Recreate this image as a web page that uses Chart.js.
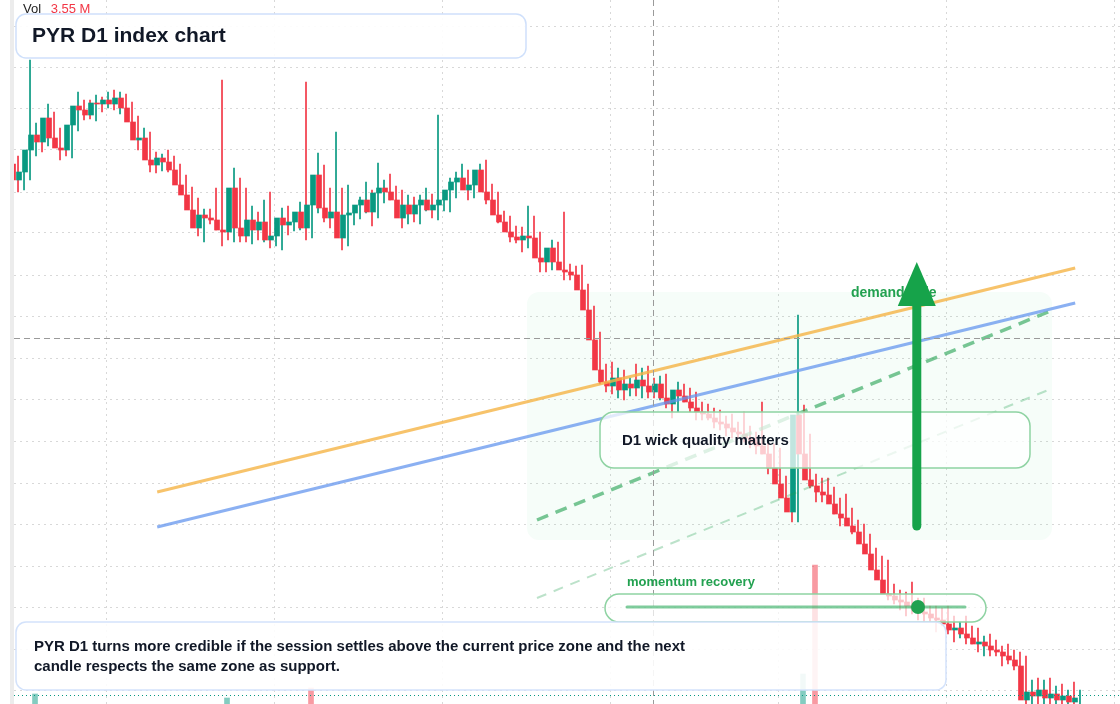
<!DOCTYPE html>
<html><head><meta charset="utf-8">
<script src="https://cdn.jsdelivr.net/npm/chart.js@4.4.1/dist/chart.umd.min.js"></script>
<style>
body{margin:0;background:#fff;font-family:"Liberation Sans",Arial,sans-serif;}
#wrap{position:relative;width:1120px;height:704px;overflow:hidden;}
#strip{position:absolute;left:10px;top:0;width:4px;height:704px;background:#ececec;}
#vol{position:absolute;left:23px;top:1px;font-size:13px;color:#222;}
#vol span{color:#f23645;margin-left:6px;}
</style></head>
<body><div id="wrap"><canvas id="c" width="1120" height="704"></canvas><div id="strip"></div><div id="vol">Vol <span>3.55 M</span></div></div>
<script>
// closes, opens follow previous close
var closes = [
 524,532,554,569,562,586,566,556,554,579,
 598,594,589,601,600,604,600,606,596,582,
 564,566,544,539,546,542,534,519,509,494,
 476,489,486,484,474,472,516,476,468,484,
 474,482,464,468,486,479,482,492,476,499,
 529,496,486,492,466,489,491,499,504,492,
 511,516,512,504,486,499,490,499,504,494,
 499,504,514,522,526,514,519,534,512,504,
 489,482,472,467,464,468,466,446,442,456,
 442,434,432,429,414,394,364,
 334,322,318,326,314,320,316,
 324,318,312,320,306,300,314,308,302,296,
 292,290,286,282,280,276,272,270,266,262,
 258,250,236,220,206,192,289,
 250,224,218,212,209,
 200,190,186,178,172,160,150,
 134,124,110,108,104,
 102,98,96,92,90,86,
 84,80,74,76,70,66,60,62,58,54,
 52,48,44,38,
 4,
 12,8,14,6,10,4,8,2,6
];
var wickUp = [
 8,10,90,12,8,14,6,10,6,10, 14,6,10,8,6,8,10,6,4,6,
 6,10,6,8,4,8,6,6,10,8, 12,6,6,30,140,6,20,10,40,14,
 8,22,30,8,10,12,6,10,130,26, 22,10,20,80,24,30,6,8,18,10,
 30,8,14,6,10,10,8,10,12,6, 90,6,12,10,14,8,6,6,10,8,
 8,4,6,6,10,30,20,6,4,8, 6,50,6,6,10,6,4,8,6,20,
 10,8,6,20,12,14,8,8,10,6, 8,6,8,10,6,8,6,8,6,10,
 6,20,8,6,40,6,10,20,8,30, 100,10,20,6,8,14,8,6,20,10,
 6,8,10,6,14,20,10,6,8,20, 8,10,6,8,10,14,8,6,12,8,
 10,6,8,6,4,8,6,8,10,12, 14,10,12,8,10,6,14,8
];
var wickDn = [
 12,10,8,6,10,4,8,12,6,8, 6,10,4,6,8,4,6,10,6,8,
 10,6,12,8,6,10,8,6,12,10, 8,14,6,10,16,8,10,14,6,8,
 10,12,8,6,14,10,6,8,12,10, 8,14,10,6,12,8,10,6,8,14,
 6,10,8,12,10,6,8,10,6,8, 10,6,12,8,6,10,8,6,12,10,
 8,6,10,6,12,8,6,14,10,8, 6,10,8,6,12,10,8,14,10,8,
 12,10,6,8,10,12,6,8,10,14, 8,6,10,12,8,6,10,8,12,10,
 6,8,10,12,8,20,6,8,10,10, 10,14,8,16,10,8,10,12,6,8,
 10,6,12,8,10,6,8,10,14,8, 12,10,8,14,6,10,12,8,10,6,
 8,12,10,6,14,8,10,6,8,12, 10,8,6,12,8,10,6,8
];
var firstOpen = 540;
var volIdx = [3, 35, 49, 131, 133];
var volVal = [10, 6, 16, 30, 139];
var volUp = [true, true, false, true, false];
var gridX = [29.7, 57.7, 85.7, 113.7, 141.7, 169.7];
var gridY = [678, 637, 595, 554, 512, 471, 429, 388, 346, 304, 263, 221, 180, 138, 97, 55, 14];
var orangeLine = [{x: 24.2, y: 212}, {x: 177.2, y: 436}];
var blueLine = [{x: 24.2, y: 177}, {x: 177.2, y: 401}];
var greenDash = [{x: 87.5, y: 184}, {x: 172.7, y: 392}];
var greenFaint = [{x: 87.5, y: 106}, {x: 172.7, y: 314}];

var GREEN = '#089981', RED = '#f23645';
var bodies = [], wicks = [], colors = [];
var prev = firstOpen;
closes.forEach((c, i) => {
    var o = prev;
    bodies.push({x: i + 1, y: [o, c]});
    wicks.push({x: i + 1, y: [Math.min(o, c) - wickDn[i], Math.max(o, c) + wickUp[i]]});
    colors.push(c >= o ? GREEN : RED);
    prev = c;
});
var vols = volIdx.map((k, j) => ({x: k, y: [0, volVal[j]]}));
var volColors = volUp.map(u => u ? 'rgba(8,153,129,0.5)' : 'rgba(242,54,69,0.5)');

function rr(ctx, x, y, w, h, r) {
    ctx.beginPath();
    ctx.roundRect(x, y, w, h, r);
}

var overlay = {
    id: 'overlay',
    beforeDatasetsDraw(chart) {
        var ctx = chart.ctx;
        ctx.save();
        ctx.fillStyle = 'rgba(34,197,94,0.04)';
        rr(ctx, 527, 292, 525, 248, 12);
        ctx.fill();
        ctx.restore();
    },
    afterDatasetsDraw(chart) {
        var ctx = chart.ctx, sx = chart.scales.x, sy = chart.scales.y;
        ctx.save();
        // crosshair and last price
        ctx.setLineDash([6, 4]);
        ctx.strokeStyle = '#9a9a9a';
        ctx.lineWidth = 1;
        ctx.beginPath(); ctx.moveTo(653.5, 0); ctx.lineTo(653.5, 704); ctx.stroke();
        ctx.beginPath(); ctx.moveTo(14, 338.5); ctx.lineTo(1120, 338.5); ctx.stroke();
        ctx.setLineDash([1, 3]);
        ctx.strokeStyle = '#089981';
        ctx.beginPath(); ctx.moveTo(14, 695.5); ctx.lineTo(1120, 695.5); ctx.stroke();
        ctx.setLineDash([]);

        // title box
        ctx.fillStyle = 'rgba(255,255,255,0.92)';
        ctx.strokeStyle = '#cfe0fb';
        ctx.lineWidth = 1.5;
        rr(ctx, 16, 14, 510, 44, 10); ctx.fill(); ctx.stroke();
        ctx.fillStyle = '#111827';
        ctx.font = 'bold 21px "Liberation Sans", Arial, sans-serif';
        ctx.textBaseline = 'middle';
        ctx.fillText('PYR D1 index chart', 32, 36);

        // wick box
        ctx.fillStyle = 'rgba(255,255,255,0.75)';
        ctx.strokeStyle = '#8fd3a3';
        rr(ctx, 600, 412, 430, 56, 14); ctx.fill(); ctx.stroke();
        ctx.fillStyle = '#111827';
        ctx.font = 'bold 15px "Liberation Sans", Arial, sans-serif';
        ctx.fillText('D1 wick quality matters', 622, 441);

        // demand side + arrow
        ctx.fillStyle = '#22a150';
        ctx.font = 'bold 14px "Liberation Sans", Arial, sans-serif';
        ctx.fillText('demand side', 851, 293);
        var ax = sx.getPixelForValue(150.8);
        ctx.strokeStyle = '#16a34a';
        ctx.lineWidth = 9;
        ctx.lineCap = 'round';
        ctx.beginPath(); ctx.moveTo(ax, sy.getPixelForValue(178)); ctx.lineTo(ax, sy.getPixelForValue(410)); ctx.stroke();
        ctx.fillStyle = '#16a34a';
        ctx.beginPath();
        ctx.moveTo(ax, sy.getPixelForValue(442));
        ctx.lineTo(ax - 19, sy.getPixelForValue(398));
        ctx.lineTo(ax + 19, sy.getPixelForValue(398));
        ctx.closePath(); ctx.fill();

        // momentum box
        ctx.lineWidth = 1.5;
        ctx.fillStyle = 'rgba(255,255,255,0.7)';
        ctx.strokeStyle = '#8fd3a3';
        rr(ctx, 605, 594, 381, 28, 14); ctx.fill(); ctx.stroke();
        ctx.strokeStyle = 'rgba(22,163,74,0.55)';
        ctx.lineWidth = 3;
        ctx.beginPath(); ctx.moveTo(627, 607); ctx.lineTo(965, 607); ctx.stroke();
        ctx.fillStyle = '#22a150';
        ctx.beginPath(); ctx.arc(918, 607, 7, 0, Math.PI * 2); ctx.fill();
        ctx.font = 'bold 13px "Liberation Sans", Arial, sans-serif';
        ctx.fillText('momentum recovery', 627, 582);

        // note box
        ctx.lineWidth = 1.5;
        ctx.fillStyle = 'rgba(255,255,255,0.9)';
        ctx.strokeStyle = '#d3e2fb';
        rr(ctx, 16, 622, 930, 68, 10); ctx.fill(); ctx.stroke();
        ctx.fillStyle = '#111827';
        ctx.font = 'bold 15px "Liberation Sans", Arial, sans-serif';
        ctx.fillText('PYR D1 turns more credible if the session settles above the current price zone and the next', 34, 647);
        ctx.fillText('candle respects the same zone as support.', 34, 667);
        ctx.restore();
    }
};

new Chart(document.getElementById('c'), {
    type: 'bar',
    data: {
        datasets: [
            {type: 'line', data: orangeLine, borderColor: 'rgba(245,180,70,0.8)', borderWidth: 3, pointRadius: 0},
            {type: 'line', data: blueLine, borderColor: 'rgba(100,149,237,0.75)', borderWidth: 3, pointRadius: 0},
            {type: 'line', data: greenDash, borderColor: 'rgba(34,160,80,0.6)', borderWidth: 3.5, borderDash: [12, 8], pointRadius: 0},
            {type: 'line', data: greenFaint, borderColor: 'rgba(34,160,80,0.3)', borderWidth: 2, borderDash: [10, 8], pointRadius: 0},
            {data: bodies, backgroundColor: colors, barThickness: 5, minBarLength: 1},
            {data: wicks, backgroundColor: colors, barThickness: 1},
            {data: vols, backgroundColor: volColors, barThickness: 5}
        ]
    },
    options: {
        responsive: false,
        animation: false,
        layout: {padding: {left: 14}},
        plugins: {legend: {display: false}, tooltip: {enabled: false}},
        scales: {
            x: {
                type: 'linear', min: 0.33, max: 184.67, offset: false, stacked: false,
                afterBuildTicks: s => { s.ticks = gridX.map(v => ({value: v})); },
                ticks: {display: false},
                grid: {color: '#d8d8d8', drawTicks: false},
                border: {display: false, dash: [2, 4]}
            },
            y: {
                min: 0, max: 704,
                afterBuildTicks: s => { s.ticks = gridY.map(v => ({value: v})); },
                ticks: {display: false},
                grid: {color: '#d8d8d8', drawTicks: false},
                border: {display: false, dash: [2, 4]}
            }
        }
    },
    plugins: [overlay]
});
</script>
</body></html>
